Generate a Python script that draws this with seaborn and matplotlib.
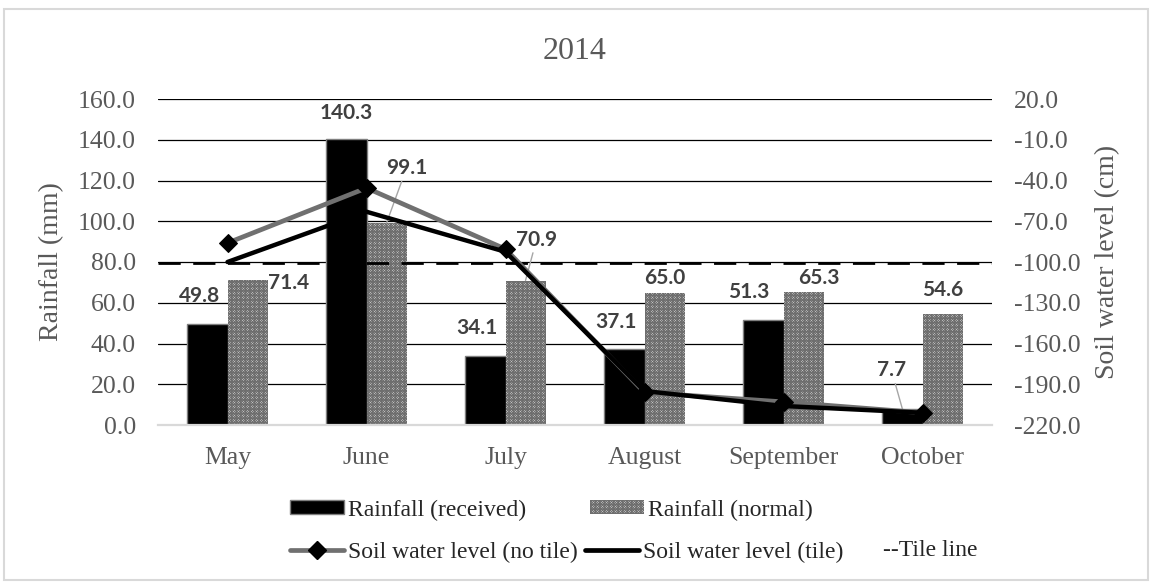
import numpy as np
import pandas as pd
import matplotlib
matplotlib.use("Agg")
import matplotlib.pyplot as plt
from matplotlib.patches import Patch, Rectangle
from matplotlib.lines import Line2D
import seaborn as sns

# ---- data ----
months = ["May", "June", "July", "August", "September", "October"]
rain_received = [49.8, 140.3, 34.1, 37.1, 51.3, 7.7]
rain_normal = [71.4, 99.1, 70.9, 65.0, 65.3, 54.6]
level_no_tile = [-86.0, -45.5, -90.5, -196.0, -203.0, -211.0]
level_tile = [-100.0, -63.0, -92.5, -195.0, -206.0, -211.0]
tile_line_depth = -101.0

rain_ticks = np.arange(0, 161, 20)
level_ticks = np.arange(-220, 21, 30)

# label offsets from each bar top (pixels) and whether a leader line is drawn
received_offsets = [(-8, 28), (0, 26), (-9, 28), (-9, 27), (-15, 28), (-11, 39)]
received_leader = [False, False, False, False, False, True]
normal_offsets = [(41, -3), (20, 55), (11, 41), (0, 15), (15, 14), (0, 24)]
normal_leader = [False, True, True, False, False, False]

# ---- style ----
sns.set_style("white")
plt.rcParams["font.family"] = ["Liberation Serif", "DejaVu Serif"]
plt.rcParams["axes.unicode_minus"] = False
plt.rcParams["hatch.linewidth"] = 0.75

TEXT_GREY = "#595959"
LABEL_GREY = "#404040"
HATCH_GREY = "#6e6e6e"
NO_TILE_GREY = "#707070"
NORMAL_HATCH = "x" * 13

W, H = 1151, 583
fig = plt.figure(figsize=(W / 100, H / 100), dpi=100)
ax = fig.add_axes([158 / W, 1 - 425 / H, 834 / W, 326 / H])

df = pd.DataFrame({
    "month": months * 2,
    "series": ["Rainfall (received)"] * len(months) + ["Rainfall (normal)"] * len(months),
    "value": rain_received + rain_normal,
})
sns.barplot(
    data=df, x="month", y="value", hue="series", order=months,
    hue_order=["Rainfall (received)", "Rainfall (normal)"],
    palette={"Rainfall (received)": "black", "Rainfall (normal)": "white"},
    width=0.576, gap=0, errorbar=None, legend=False, saturation=1, ax=ax,
)
for bar in ax.containers[0]:
    bar.set_edgecolor("#7f7f7f")
    bar.set_linewidth(1.0)
for bar in ax.containers[1]:
    bar.set_facecolor("white")
    bar.set_hatch(NORMAL_HATCH)
    bar.set_edgecolor(HATCH_GREY)
    bar.set_linewidth(0)

ax.set_ylim(0, 160)
ax.set_yticks(rain_ticks)
ax.set_yticklabels([f"{v:.1f}" for v in rain_ticks])
ax.set_xlabel("")
ax.set_axisbelow(True)
ax.yaxis.grid(True, color="black", linewidth=0.9)
ax.xaxis.grid(False)
ax.get_ygridlines()[0].set_visible(False)
for side in ["top", "left", "right"]:
    ax.spines[side].set_visible(False)
ax.spines["bottom"].set_color("#d9d9d9")
ax.spines["bottom"].set_linewidth(1.6)
ax.tick_params(axis="both", length=0, labelsize=18.5, colors=TEXT_GREY, pad=16)
ax.set_ylabel("Rainfall (mm)", fontsize=20, color=TEXT_GREY, labelpad=10)
ax.set_title("2014", fontsize=23, color=TEXT_GREY, pad=29)

# bar value labels
label_font = dict(family=["Lato", "DejaVu Sans"], fontweight="bold", fontsize=15, color=LABEL_GREY)
for cont, values, offs, leaders in [
    (ax.containers[0], rain_received, received_offsets, received_leader),
    (ax.containers[1], rain_normal, normal_offsets, normal_leader),
]:
    for bar, v, (dx, dy), lead in zip(cont, values, offs, leaders):
        xc = bar.get_x() + bar.get_width() / 2
        arrow = dict(arrowstyle="-", color="#a6a6a6", lw=1.0, shrinkA=0, shrinkB=0) if lead else None
        ax.annotate(f"{v:.1f}", xy=(xc, v), xytext=(dx, dy), textcoords="offset pixels",
                    ha="center", va="center", arrowprops=arrow, zorder=5, **label_font)

# soil water level on the secondary axis
ax2 = ax.twinx()
xpos = np.arange(len(months))
ax2.axhline(tile_line_depth, color="black", linewidth=2.0, linestyle=(0, (8, 4.5)), zorder=2)
sns.lineplot(x=xpos, y=level_no_tile, ax=ax2, color=NO_TILE_GREY, linewidth=3.4,
             marker="D", markersize=9, markerfacecolor="black", markeredgecolor="black", zorder=3)
sns.lineplot(x=xpos, y=level_tile, ax=ax2, color="black", linewidth=3.2, zorder=4)
ax2.set_ylim(-220, 20)
ax2.set_yticks(level_ticks)
ax2.set_yticklabels([f"{v:.1f}" for v in level_ticks])
ax2.grid(False)
for side in ax2.spines:
    ax2.spines[side].set_visible(False)
ax2.tick_params(axis="y", length=0, labelsize=18.5, colors=TEXT_GREY, pad=16)
ax2.set_ylabel("Soil water level (cm)", fontsize=20, color=TEXT_GREY, labelpad=10)
ax.set_xlim(-0.5, len(months) - 0.5)

# legend
leg_kw = dict(loc="center left", frameon=False, fontsize=17, handlelength=2.29,
              handleheight=0.5, handletextpad=0.17, borderpad=0, borderaxespad=0, ncol=2)
fig.legend(
    handles=[Patch(facecolor="black", edgecolor="#7f7f7f", linewidth=1.0),
             Patch(facecolor="white", edgecolor=HATCH_GREY, hatch=NORMAL_HATCH, linewidth=0)],
    labels=["Rainfall (received)", "Rainfall (normal)"],
    bbox_to_anchor=(290 / W, 1 - 510 / H), columnspacing=2.7, **leg_kw,
)
fig.legend(
    handles=[Line2D([], [], color=NO_TILE_GREY, linewidth=3.4, marker="D", markersize=9,
                    markerfacecolor="black", markeredgecolor="black"),
             Line2D([], [], color="black", linewidth=3.4)],
    labels=["Soil water level (no tile)", "Soil water level (tile)"],
    bbox_to_anchor=(290 / W, 1 - 552 / H), columnspacing=0.3, **leg_kw,
)
fig.text(883 / W, 1 - 550 / H, "--Tile line", fontsize=17, ha="left", va="center")

# chart border
fig.add_artist(Rectangle((4 / W, 3 / H), 1144 / W, 571 / H, transform=fig.transFigure,
                         fill=False, edgecolor="#d9d9d9", linewidth=1.5))

fig.savefig("out.png", dpi=100)
